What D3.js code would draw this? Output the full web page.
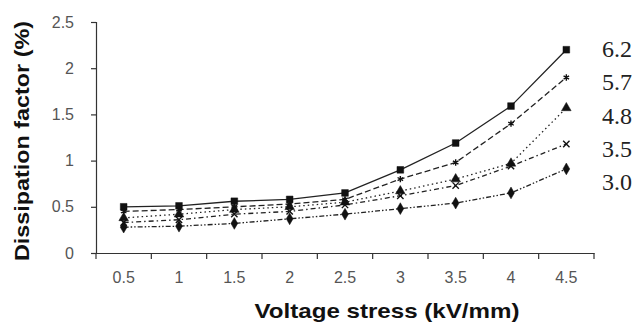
<!DOCTYPE html>
<html>
<head>
<meta charset="utf-8">
<script src="https://cdn.jsdelivr.net/npm/d3@7"></script>
<style>
  body { margin: 0; background: #fff; }
  svg { display: block; }
</style>
</head>
<body>
<svg id="chart"></svg>
<script>
// categories on the x axis (kV/mm)
let voltages = ['0.5', '1', '1.5', '2', '2.5', '3', '3.5', '4', '4.5'];
// series names shown at the right
let seriesNames = ['6.2', '5.7', '4.8', '3.5', '3.0'];
// dissipation factor (%) per series
let df62 = [0.50, 0.51, 0.56, 0.58, 0.65, 0.90, 1.19, 1.59, 2.20];
let df57 = [0.45, 0.47, 0.50, 0.53, 0.58, 0.80, 0.98, 1.40, 1.90];
let df48 = [0.38, 0.42, 0.47, 0.50, 0.55, 0.67, 0.80, 0.97, 1.57];
let df35 = [0.33, 0.36, 0.42, 0.45, 0.52, 0.62, 0.73, 0.94, 1.18];
let df30 = [0.28, 0.29, 0.32, 0.37, 0.42, 0.48, 0.54, 0.65, 0.91];
let yTicks = [0, 0.5, 1, 1.5, 2, 2.5];

let allSeries = [df62, df57, df48, df35, df30];

// line dash + marker per series
let dashes = [null, '6,3', '1.5,3', '5,3,1.5,3', '5,2,1.5,2,1.5,2'];
let markers = ['square', 'star', 'triangle', 'cross', 'diamond'];

let width = 642, height = 326;
let margin = { top: 22, right: 48, bottom: 73, left: 96 };

let svg = d3.select('#chart')
            .attr('width', width)
            .attr('height', height);

let xScale = d3.scaleBand()
               .domain(voltages)
               .range([margin.left, width - margin.right]);

let yScale = d3.scaleLinear()
               .domain([0, 2.5])
               .range([height - margin.bottom, margin.top]);

let xAxis = d3.axisBottom(xScale).tickSize(0).tickPadding(19);
let yAxis = d3.axisLeft(yScale).tickValues(yTicks).tickFormat(d3.format('')).tickSize(5).tickPadding(17);

let gx = svg.append('g')
   .attr('transform', 'translate(0,' + yScale(0) + ')')
   .call(xAxis);

// Excel-style tick marks between categories
let edges = voltages.map(v => xScale(v)).concat([xScale.range()[1]]);
gx.selectAll('.cat-tick')
  .data(edges)
  .enter()
  .append('line')
  .attr('class', 'cat-tick')
  .attr('x1', d => d).attr('x2', d => d)
  .attr('y1', 0).attr('y2', 6);

let gy = svg.append('g')
   .attr('transform', 'translate(' + margin.left + ',0)')
   .call(yAxis);

[gx, gy].forEach(g => {
  g.attr('font-size', 16).attr('font-family', 'Liberation Sans, Arial, sans-serif');
  g.selectAll('path.domain').attr('stroke', '#333').attr('stroke-width', 1.2);
  g.selectAll('line').attr('stroke', '#333').attr('stroke-width', 1.2);
  g.selectAll('text')
   .attr('fill', '#555')
   .style('font-size', '16px');
});

// axis titles
svg.append('text')
   .attr('x', 387)
   .attr('y', 318)
   .attr('text-anchor', 'middle')
   .attr('textLength', 265)
   .attr('lengthAdjust', 'spacingAndGlyphs')
   .style('font-family', 'Liberation Sans, Arial, sans-serif')
   .style('font-weight', 'bold')
   .style('font-size', '21px')
   .attr('fill', '#111')
   .text('Voltage stress (kV/mm)');

svg.append('text')
   .attr('transform', 'translate(29,141) rotate(-90)')
   .attr('text-anchor', 'middle')
   .attr('textLength', 240)
   .attr('lengthAdjust', 'spacingAndGlyphs')
   .style('font-family', 'Liberation Sans, Arial, sans-serif')
   .style('font-weight', 'bold')
   .style('font-size', '21px')
   .attr('fill', '#111')
   .text('Dissipation factor (%)');

// lines
let line = d3.line()
             .x((d, i) => xScale(voltages[i]) + xScale.bandwidth() / 2)
             .y(d => yScale(d));

allSeries.forEach((vals, s) => {
  svg.append('path')
     .datum(vals)
     .attr('fill', 'none')
     .attr('stroke', '#222')
     .attr('stroke-width', 1.3)
     .attr('stroke-dasharray', dashes[s])
     .attr('d', line);
});

// markers
let symbolTypes = {
  square: d3.symbolSquare,
  triangle: d3.symbolTriangle,
  diamond: d3.symbolDiamond,
  cross: d3.symbolX,
  star: d3.symbolAsterisk
};
let symbolSizes = { square: 45, triangle: 40, diamond: 40, cross: 28, star: 28 };

allSeries.forEach((vals, s) => {
  let m = markers[s];
  let sym = d3.symbol().type(symbolTypes[m]).size(symbolSizes[m]);
  let stroked = (m === 'cross' || m === 'star');
  svg.append('g')
     .selectAll('path')
     .data(vals)
     .enter()
     .append('path')
     .attr('transform', (d, i) => 'translate(' + (xScale(voltages[i]) + xScale.bandwidth() / 2) + ',' + yScale(d) + ')')
     .attr('d', sym)
     .attr('fill', stroked ? 'none' : '#111')
     .attr('stroke', '#111')
     .attr('stroke-width', stroked ? 1.4 : 0.5);
});

// series labels on the right
svg.append('g')
   .selectAll('text')
   .data(seriesNames)
   .enter()
   .append('text')
   .attr('x', 602)
   .attr('y', (d, i) => 57 + i * 33.3)
   .style('font-family', 'Liberation Serif, Times New Roman, serif')
   .style('font-size', '24px')
   .attr('fill', '#222')
   .text(d => d);
</script>
</body>
</html>
